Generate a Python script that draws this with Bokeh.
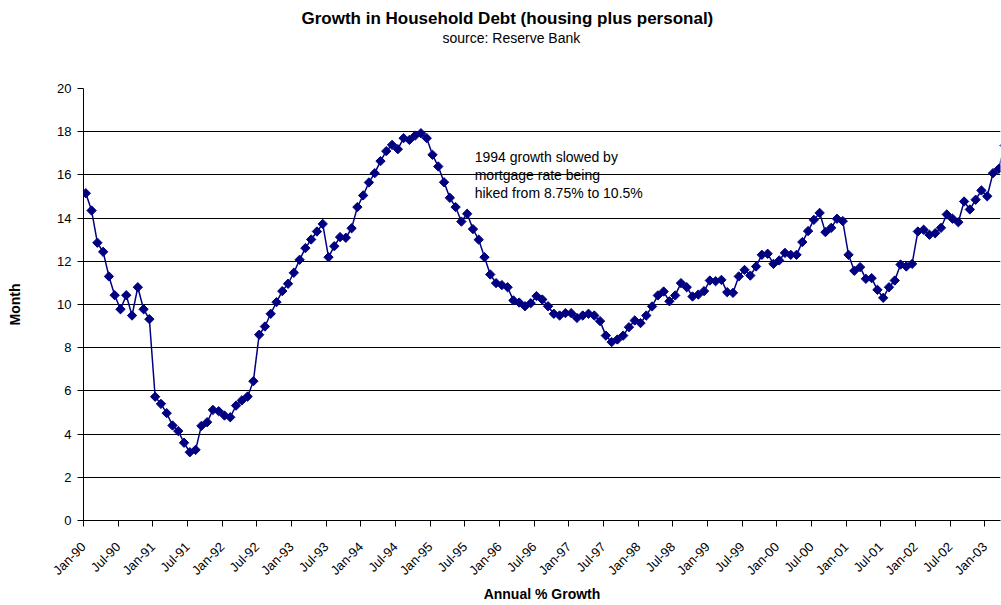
import math
from bokeh.plotting import figure
from bokeh.models import Range1d, FixedTicker, Label, Title
from bokeh.embed import file_html
from bokeh.resources import INLINE

FONT = "Liberation Sans"
NAVY = "#000080"

# Annual % growth of household debt, monthly from Jan-90
growth = [
    15.15, 14.35, 12.86, 12.44, 11.30, 10.43, 9.78, 10.43, 9.49, 10.80, 9.78, 9.32,      # 1990
    5.73, 5.40, 4.97, 4.40, 4.14, 3.60, 3.16, 3.27, 4.38, 4.55, 5.12, 5.06,              # 1991
    4.86, 4.78, 5.32, 5.56, 5.74, 6.45, 8.60, 8.98, 9.57, 10.11, 10.62, 10.96,           # 1992
    11.47, 12.07, 12.61, 13.01, 13.38, 13.73, 12.19, 12.70, 13.12, 13.09, 13.53, 14.51,  # 1993
    15.05, 15.65, 16.08, 16.64, 17.10, 17.39, 17.19, 17.70, 17.62, 17.82, 17.93, 17.70,  # 1994
    16.93, 16.39, 15.66, 14.94, 14.51, 13.84, 14.20, 13.49, 13.00, 12.19, 11.39, 10.99,  # 1995
    10.90, 10.80, 10.19, 10.09, 9.92, 10.06, 10.39, 10.23, 9.92, 9.57, 9.49, 9.60,       # 1996
    9.60, 9.38, 9.49, 9.57, 9.49, 9.23, 8.56, 8.26, 8.38, 8.56, 8.95, 9.26,              # 1997
    9.14, 9.49, 9.91, 10.42, 10.60, 10.15, 10.42, 10.99, 10.80, 10.37, 10.46, 10.62,     # 1998
    11.11, 11.08, 11.14, 10.57, 10.54, 11.30, 11.60, 11.34, 11.76, 12.30, 12.35, 11.88,  # 1999
    12.04, 12.39, 12.30, 12.30, 12.89, 13.40, 13.92, 14.24, 13.35, 13.55, 13.97, 13.86,  # 2000
    12.30, 11.56, 11.73, 11.19, 11.22, 10.68, 10.31, 10.80, 11.11, 11.85, 11.76, 11.88,  # 2001
    13.38, 13.46, 13.23, 13.30, 13.55, 14.17, 13.97, 13.81, 14.77, 14.40, 14.85, 15.28,  # 2002
    15.01, 16.08, 16.28, 17.36,                                                          # 2003
]

tick_labels = [
    "Jan-90", "Jul-90", "Jan-91", "Jul-91", "Jan-92", "Jul-92", "Jan-93", "Jul-93",
    "Jan-94", "Jul-94", "Jan-95", "Jul-95", "Jan-96", "Jul-96", "Jan-97", "Jul-97",
    "Jan-98", "Jul-98", "Jan-99", "Jul-99", "Jan-00", "Jul-00", "Jan-01", "Jul-01",
    "Jan-02", "Jul-02", "Jan-03",
]
y_ticks = [0, 2, 4, 6, 8, 10, 12, 14, 16, 18, 20]

title_text = "Growth in Household Debt (housing plus personal)"
subtitle_text = "source: Reserve Bank"
annotation = ["1994 growth slowed by", "mortgage rate being", "hiked from 8.75% to 10.5%"]

# month index (mid-month position within each monthly slot)
x = [i + 0.4 for i in range(len(growth))]
tick_pos = [6 * i for i in range(len(tick_labels))]

p = figure(width=1001, height=605, output_backend="svg", toolbar_location=None,
           x_range=Range1d(0, 158.7), y_range=Range1d(0, 20),
           min_border_left=83, min_border_right=1, min_border_bottom=85, min_border_top=88,
           title=None)

# title panels (first added sits nearest the plot area): spacer, subtitle, title
p.add_layout(Title(text=" ", text_font=FONT, text_font_size="2px", standoff=39,
                   align="left"), "above")
p.add_layout(Title(text=subtitle_text, text_font=FONT, text_font_size="14px",
                   text_font_style="normal", text_color="black", align="left",
                   offset=359, standoff=0), "above")
p.add_layout(Title(text=title_text, text_font=FONT, text_font_size="17px",
                   text_font_style="bold", text_color="black", align="left",
                   offset=218, standoff=0), "above")

p.outline_line_color = None
p.background_fill_color = "white"
p.border_fill_color = "white"

p.xgrid.visible = False
p.ygrid.grid_line_color = "black"
p.ygrid.grid_line_width = 1
p.ygrid.ticker = FixedTicker(ticks=y_ticks)

p.line(x, growth, line_color=NAVY, line_width=1.5)
p.scatter(x, growth, marker="square", size=6.6, angle=math.pi / 4,
          fill_color=NAVY, line_color=NAVY)

xa = p.xaxis[0]
xa.ticker = FixedTicker(ticks=tick_pos, minor_ticks=[])
xa.major_label_overrides = {t: l for t, l in zip(tick_pos, tick_labels)}
xa.major_label_orientation = math.pi / 4
xa.major_label_text_font = FONT
xa.major_label_text_font_size = "13px"
xa.major_label_text_color = "black"
xa.major_label_standoff = 18
xa.major_tick_out = 6
xa.major_tick_in = 0
xa.minor_tick_line_color = None
xa.axis_line_color = "black"
xa.major_tick_line_color = "black"
xa.axis_label = "Annual % Growth"
xa.axis_label_text_font = FONT
xa.axis_label_text_font_size = "14px"
xa.axis_label_text_font_style = "bold"
xa.axis_label_text_color = "black"
xa.axis_label_standoff = 0

ya = p.yaxis[0]
ya.ticker = FixedTicker(ticks=y_ticks, minor_ticks=[])
ya.major_label_text_font = FONT
ya.major_label_text_font_size = "13px"
ya.major_label_text_color = "black"
ya.major_label_standoff = 6
ya.major_tick_out = 6
ya.major_tick_in = 0
ya.minor_tick_line_color = None
ya.axis_line_color = "black"
ya.major_tick_line_color = "black"
ya.axis_label = "Month"
ya.axis_label_text_font = FONT
ya.axis_label_text_font_size = "14px"
ya.axis_label_text_font_style = "bold"
ya.axis_label_text_color = "black"
ya.axis_label_standoff = 31

p.add_layout(Label(x=67.7, y=16.0, text="\n".join(annotation), text_font=FONT,
                   text_font_size="14px", text_color="black", text_baseline="middle",
                   text_line_height=1.13))

open("out.html", "w").write(file_html(p, INLINE))
